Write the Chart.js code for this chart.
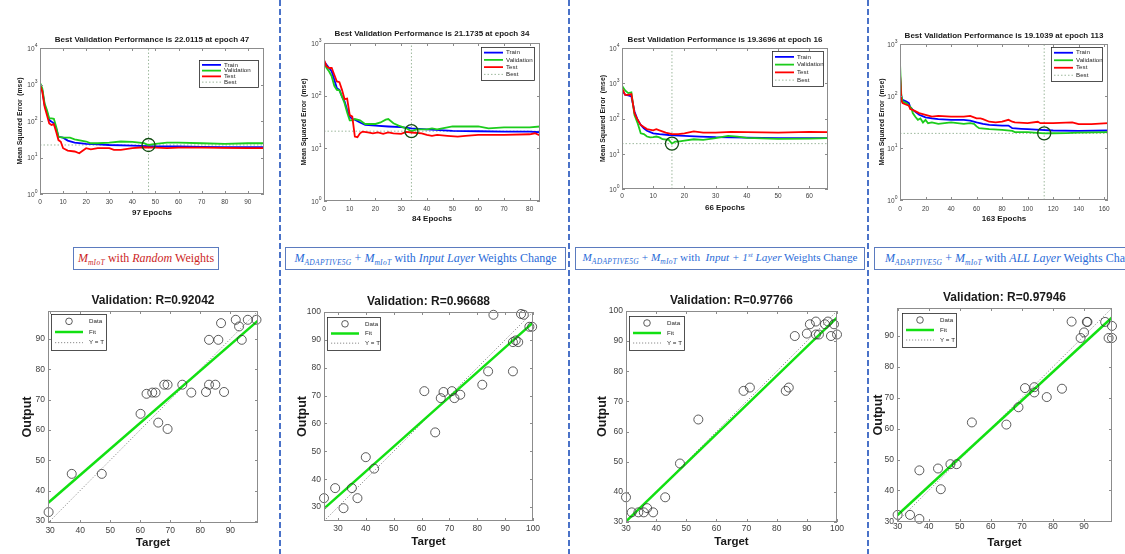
<!DOCTYPE html>
<html>
<head>
<meta charset="utf-8">
<script src="https://cdn.jsdelivr.net/npm/chart.js@4.4.1/dist/chart.umd.min.js"></script>
<style>
  html, body { margin: 0; padding: 0; background: #fff; }
  body { width: 1125px; height: 554px; position: relative; overflow: hidden; font-family: "Liberation Sans", Arial, sans-serif; }
  .pane { position: absolute; }
  .pane canvas { display: block; }
  .sep { position: absolute; top: 0; width: 2px; height: 554px;
         background: repeating-linear-gradient(to bottom, #4a72c8 0 6px, transparent 6px 9px); }
  .cap { position: absolute; box-sizing: border-box; border: 1.5px solid #5b7bbf; background: #fff;
         font-family: "Liberation Serif", "Times New Roman", serif; font-size: 12px;
         display: flex; align-items: center; justify-content: center; white-space: nowrap; }
  .cap sub { font-size: 7.5px; font-style: italic; vertical-align: -3px; letter-spacing: 0.3px; }
  .cap sup { font-size: 7px; font-style: italic; vertical-align: 4px; }
  .red { color: #cc1f1f; }
  .blue { color: #2a6bd8; }
</style>
</head>
<body>

<div class="sep" style="left:279px"></div>
<div class="sep" style="left:568px"></div>
<div class="sep" style="left:867px"></div>

<div class="cap red" style="left:73px;top:247px;width:146px;height:23px;">
  <span><i>M</i><sub>mIoT</sub> with <i>Random</i> Weights</span>
</div>
<div class="cap blue" style="left:285px;top:247px;width:281px;height:23px;">
  <span><i>M</i><sub>ADAPTIVE5G</sub> + <i>M</i><sub>mIoT</sub> with <i>Input Layer</i> Weights Change</span>
</div>
<div class="cap blue" style="left:575px;top:247px;width:290px;height:23px;font-size:11.2px;">
  <span><i>M</i><sub>ADAPTIVE5G</sub> + <i>M</i><sub>mIoT</sub> with&nbsp; <i>Input + 1<sup>st</sup> Layer</i> Weights Change</span>
</div>
<div class="cap blue" style="left:874px;top:247px;width:262px;height:23px;justify-content:flex-start;padding-left:10px;">
  <span><i>M</i><sub>ADAPTIVE5G</sub> + <i>M</i><sub>mIoT</sub> with <i>ALL Layer</i> Weights Change</span>
</div>

<script>
// ---------------- training performance (MSE per epoch) ----------------
// Run A: random weights
const aEpTrain = [0,1,2,3,4,5,6,7,8,10,12,15,20,25,30,40,50,60,70,80,90,97];
const aTrain   = [1070,700,270,180,106,96,86,63,37,35,29,25.6,23.5,23,22,21.2,20,20,19.6,19.1,19.1,19.1];
const aEpVal   = [0,1,2,3,4,5,6,7,8,10,13,15,20,22,25,30,35,40,45,47,50,55,60,70,80,90,97];
const aVal     = [1120,780,300,200,118,118,115,70,37,35,35,31.6,27.4,24.6,24.6,25.6,27.4,26.8,24.6,22.0115,23.5,25.6,25.6,24.6,23.5,24.6,24.6];
const aEpTest  = [0,1,2,3,4,5,6,7,8,9,10,12,15,17,18,20,22,25,30,32,35,40,45,50,55,60,70,80,90,97];
const aTest    = [960,630,245,145,86,78,82,51,30,27,18,15.5,14.6,13.1,14.6,18,16.8,18,18,16.2,16.2,18,19.1,18.7,18,18.7,18.7,18.3,18,18];

// Run B: input layer weights changed
const bEpTrain = [0,1,2,3,4,5,6,7,8,9,10,11,12,14,16,20,25,30,34,40,50,60,70,80,84];
const bTrain   = [447,387,335,288,200,139,129,96,78,54,40,36,35,31,28,27,26,25.3,24,23,21.5,21.1,20.8,20.8,20.2];
const bEpVal   = [0,1,2,3,4,5,6,7,8,9,10,11,12,14,16,20,22,24,25,27,29,32,34,36,40,42,44,46,50,60,64,70,80,84];
const bVal     = [418,335,288,232,154,129,126,96,72,48,34,34,36,34,29,29,31,35,36,30,27,24,21.1735,23,23,24,23,24,26,26,24,25,25,26];
const bEpTest  = [0,1,2,3,4,5,6,7,8,9,10,11,12,13,14,15,17,19,21,23,25,27,30,32,34,38,40,42,44,48,52,55,60,70,80,82,84];
const bTest    = [480,360,335,335,250,186,180,129,86,88,43,40,16.7,16.3,19.3,20.8,20,19.3,20,18.8,20,19.3,18.8,20.5,20,19.3,18,17.3,18,17.3,16.7,17.3,18,18,18.5,19.3,17.5];

// Run C: input + 1st layer weights changed
const cEpTrain = [0,1,2,3,4,5,6,7,8,10,12,15,20,25,30,40,50,60,66];
const cTrain   = [653,470,450,424,158,92,66,53,45,38,36,34,32,30.8,29.5,28.8,27.6,27.6,27.6];
const cEpVal   = [0,1,2,3,4,5,6,7,8,9,10,11,12,13,15,16,17,18,20,23,26,30,34,37,40,50,60,66];
const cVal     = [850,625,525,550,126,74,38,36,30.8,29,29.5,30.8,29,25.8,24.7,19.3696,22.2,22,23.7,25.8,24.7,27.6,32,30.8,28.2,26.4,27,27.6];
const cEpTest  = [0,1,2,3,4,5,6,7,8,10,11,12,14,16,18,20,23,26,30,35,40,50,60,66];
const cTest    = [730,470,470,490,141,92,66,57,50,46,50,46,40,36,36,38,43,40,40,42,41,40,42,41];

// Run D: all layer weights changed
const dEpTrain = [0,1,2,5,7,8,10,15,20,25,30,40,50,55,60,65,70,80,85,88,95,100,110,120,140,163];
const dTrain   = [256,98,84,78,73,61,54,43.5,39,37,36,34.8,34.8,33.7,31,29,27.8,27,27,24,23.4,23,22.3,21.7,21.3,21.7];
const dEpVal   = [0,1,2,5,7,9,10,12,14,16,18,20,22,25,30,40,50,55,58,60,62,70,80,88,90,100,105,113,120,130,140,163];
const dVal     = [430,106,78,73,65,58,47,40,34.8,37,31,34.8,30,31,29,31,29,30,29,26,24,23,22.3,21.3,20.2,20.2,19.8,19.1039,19.2,19.3,19.8,20.2];
const dEpTest  = [0,1,2,5,7,8,10,15,20,25,30,40,50,55,60,63,65,70,75,80,85,88,90,100,108,110,120,135,140,150,163];
const dTest    = [275,84,73,68,65,56,54,47,43.5,40,41.5,40,40,41.5,37,37,36,32,31,32,34.8,32,31,30,31.9,30,30,31,28.7,28.7,30];

const bestValue   = [22.0115, 21.1735, 19.3696, 19.1039];
const bestEpoch   = [47, 34, 16, 113];
const totalEpochs = [97, 84, 66, 163];
const mseTopPower = [4, 3, 4, 3];
const epochTicks  = [
  [0,10,20,30,40,50,60,70,80,90],
  [0,10,20,30,40,50,60,70,80],
  [0,10,20,30,40,50,60],
  [0,20,40,60,80,100,120,140,160]
];

// ---------------- validation regression (target vs output) ----------------
const rA_target = [29.5,37.2,47.2,60.1,62.1,64.0,65.1,66.0,68.0,69.1,69.1,74.0,77.0,81.9,82.9,82.9,85.0,86.0,86.9,87.9,91.8,92.9,93.8,95.8,98.7];
const rA_output = [32.9,45.5,45.5,65.3,71.9,72.3,72.3,62.4,74.9,74.9,60.3,74.9,72.3,72.5,74.9,89.7,74.9,89.7,95.2,72.5,96.3,94.1,89.7,96.3,96.3];
const rB_target = [25.0,29.0,32.0,35.0,37.0,40.0,43.0,61.0,64.9,66.9,67.9,70.9,71.8,73.9,81.8,83.9,85.8,92.8,92.8,93.8,94.7,95.7,96.7,98.7,99.7];
const rB_output = [33.2,36.8,29.6,36.8,33.2,47.9,43.8,71.6,56.8,69.1,71.3,71.6,69.1,70.3,73.9,78.7,99.0,78.7,89.2,89.8,89.2,99.3,99.0,94.7,94.7];
const rC_target = [30.0,31.9,34.1,35.9,37.0,39.0,43.0,47.9,54.0,69.0,71.1,83.0,84.0,86.0,90.0,91.0,93.0,93.0,94.0,96.0,97.0,98.0,99.0,100.0];
const rC_output = [38.2,33.2,33.2,33.2,34.6,33.2,38.2,49.4,64.0,73.5,74.6,73.5,74.6,91.7,92.5,95.6,96.5,92.2,92.2,95.6,96.5,91.7,95.6,92.2];
const rD_target = [30.0,34.0,37.0,37.0,43.0,43.9,47.0,49.0,53.9,65.0,68.9,71.0,74.0,74.0,78.0,82.9,86.0,88.9,90.0,90.9,91.1,96.8,97.9,99.0,99.0];
const rD_output = [32.1,32.1,30.8,46.5,47.1,40.4,48.5,48.5,62.0,61.3,66.9,73.1,73.4,71.7,70.2,72.9,94.6,89.3,91.1,94.5,94.5,94.5,89.3,93.2,89.3];

const rValue       = ['0.92042', '0.96688', '0.97766', '0.97946'];
const fitSlope     = [0.86, 0.89, 0.966, 0.925];
const fitIntercept = [10.7, 7.2, 1.2, 4.35];
const regLimits    = [[29.3, 99.2], [25, 100], [30, 100], [29.8, 99]];
const regTicks     = [
  [30,40,50,60,70,80,90],
  [30,40,50,60,70,80,90,100],
  [30,40,50,60,70,80,90,100],
  [30,40,50,60,70,80,90]
];

// ---------------- drawing ----------------
const FONT = "'Liberation Sans', Arial, Helvetica, sans-serif";
Chart.defaults.font.family = FONT;
Chart.defaults.animation = false;

const pts = (xs, ys) => xs.map((x, i) => ({ x: x, y: ys[i] }));

// axes box with inward tick marks
const axesBox = {
  id: 'axesBox',
  afterDatasetsDraw(chart) {
    const { ctx, chartArea: a, scales } = chart;
    ctx.save();
    ctx.strokeStyle = '#8c8c8c';
    ctx.lineWidth = 1;
    ctx.strokeRect(a.left + 0.5, a.top + 0.5, a.right - a.left - 1, a.bottom - a.top - 1);
    const L = 3;
    ctx.beginPath();
    scales.x.ticks.forEach(t => {
      const p = Math.round(scales.x.getPixelForValue(t.value)) + 0.5;
      ctx.moveTo(p, a.bottom); ctx.lineTo(p, a.bottom - L);
      ctx.moveTo(p, a.top); ctx.lineTo(p, a.top + L);
    });
    scales.y.ticks.forEach(t => {
      const p = Math.round(scales.y.getPixelForValue(t.value)) + 0.5;
      ctx.moveTo(a.left, p); ctx.lineTo(a.left + L, p);
      ctx.moveTo(a.right, p); ctx.lineTo(a.right - L, p);
    });
    ctx.stroke();
    ctx.restore();
  }
};

// "10" with a raised exponent for each tick of a logarithmic y axis
const powerTicks = {
  id: 'powerTicks',
  afterDraw(chart, args, o) {
    if (!o || !o.size) return;
    const { ctx, chartArea: a, scales } = chart;
    const y = scales.y;
    ctx.save();
    ctx.fillStyle = '#404040';
    ctx.textBaseline = 'middle';
    ctx.textAlign = 'left';
    y.ticks.forEach(t => {
      const p = y.getPixelForValue(t.value);
      const e = String(Math.round(Math.log10(t.value)));
      ctx.font = o.expSize + 'px ' + FONT;
      const we = ctx.measureText(e).width;
      ctx.font = o.size + 'px ' + FONT;
      const wb = ctx.measureText('10').width;
      const xe = a.left - o.gap - we;
      ctx.fillText('10', xe - wb - 0.2, p + 1);
      ctx.font = o.expSize + 'px ' + FONT;
      ctx.fillText(e, xe, p - 2.5);
    });
    ctx.restore();
  }
};

// boxed legend placed inside the axes
const insetLegend = {
  id: 'insetLegend',
  afterDraw(chart, args, o) {
    if (!o || !o.w) return;
    const items = chart.data.datasets.filter(d => d.label && !d.noLegend);
    const { ctx, chartArea: a } = chart;
    const x = o.side === 'right' ? a.right - o.gap[0] - o.w : a.left + o.gap[0];
    const y = a.top + o.gap[1];
    ctx.save();
    ctx.fillStyle = '#fff';
    ctx.fillRect(x, y, o.w, o.h);
    ctx.strokeStyle = '#262626';
    ctx.lineWidth = 0.8;
    ctx.strokeRect(x + 0.5, y + 0.5, o.w, o.h);
    const rowH = (o.h - 2 * o.padY) / items.length;
    items.forEach((d, i) => {
      const cy = y + o.padY + rowH * (i + 0.5);
      ctx.beginPath();
      if (d.legendSymbol === 'circle') {
        ctx.arc(x + o.circX, cy, o.r, 0, 2 * Math.PI);
        ctx.strokeStyle = d.pointBorderColor;
        ctx.lineWidth = d.pointBorderWidth;
        ctx.stroke();
      } else {
        ctx.setLineDash(d.borderDash || []);
        ctx.moveTo(x + o.sym[0], cy);
        ctx.lineTo(x + o.sym[1], cy);
        ctx.strokeStyle = d.borderColor;
        ctx.lineWidth = d.borderWidth;
        ctx.stroke();
        ctx.setLineDash([]);
      }
      ctx.fillStyle = '#262626';
      ctx.font = o.fontSize + 'px ' + FONT;
      ctx.textBaseline = 'middle';
      ctx.textAlign = 'left';
      ctx.fillText(d.label, x + o.textX, cy);
    });
    ctx.restore();
  }
};

function makeCanvas(cv) {
  const div = document.createElement('div');
  div.className = 'pane';
  div.style.cssText = `left:${cv.x}px;top:${cv.y}px;width:${cv.w}px;height:${cv.h}px;`;
  const c = document.createElement('canvas');
  c.width = cv.w; c.height = cv.h;
  c.style.width = cv.w + 'px'; c.style.height = cv.h + 'px';
  div.appendChild(c);
  document.body.appendChild(div);
  return c;
}

// options shared by all axes frames: places the plot box inside the canvas
function frame(f) {
  const cv = f.cv, p = f.plot;
  const tLH = f.titleSize * 1.2;
  const tTop = f.titleY - cv.y - tLH / 2;
  const tBot = (p.t - cv.y) - tLH - tTop;
  const bottomEdge = cv.y + cv.h;
  return {
    layout: { padding: { left: 0, top: 0, bottom: 0, right: cv.x + cv.w - p.r } },
    title: {
      display: true, text: f.title, fullSize: false, color: '#1a1a1a',
      font: { family: FONT, size: f.titleSize, weight: 'bold', lineHeight: 1.2 },
      padding: { top: tTop, bottom: tBot }
    },
    yWidth: p.l - cv.x,
    xHeight: bottomEdge - p.b,
    xTickPad: f.xTickY - p.b - f.tickSize * 1.2 / 2,
    xTitlePad: bottomEdge - f.xTitleY - f.xTitleSize * 1.2 / 2,
    yTitlePad: f.yTitleX - cv.x - f.yTitleSize * 1.2 / 2
  };
}

function axis(type, min, max, tickVals, fr, isX, f, label, labelSize, showLabels) {
  return {
    type: type, min: min, max: max,
    afterBuildTicks: s => { s.ticks = tickVals.map(v => ({ value: v })); },
    afterFit: s => { if (isX) s.height = fr.xHeight; else s.width = fr.yWidth; },
    grid: { display: false, drawTicks: false },
    border: { display: false },
    ticks: {
      display: showLabels !== false,
      autoSkip: false, maxRotation: 0, color: '#404040',
      font: { size: f.tickSize, lineHeight: 1.2 },
      padding: isX ? fr.xTickPad : f.yTickGap,
      callback: v => String(v)
    },
    title: {
      display: true, text: label, color: '#1a1a1a',
      font: { size: labelSize, weight: 'bold', lineHeight: 1.2 },
      padding: isX ? { top: 0, bottom: fr.xTitlePad } : { top: fr.yTitlePad, bottom: 0 }
    }
  };
}

// ---- training performance panels ----
const perfRuns = [
  { train: pts(aEpTrain, aTrain), val: pts(aEpVal, aVal), test: pts(aEpTest, aTest) },
  { train: pts(bEpTrain, bTrain), val: pts(bEpVal, bVal), test: pts(bEpTest, bTest) },
  { train: pts(cEpTrain, cTrain), val: pts(cEpVal, cVal), test: pts(cEpTest, cTest) },
  { train: pts(dEpTrain, dTrain), val: pts(dEpVal, dVal), test: pts(dEpTest, dTest) }
];

const perfFrames = [
  { cv: { x: 0,   y: 20, w: 276, h: 205 }, plot: { l: 40,  t: 48, r: 264,  b: 194 }, titleY: 40, xTickY: 202, xTitleY: 213, yTitleX: 20,
    legend: { gap: [6, 12], w: 59, h: 27 } },
  { cv: { x: 284, y: 15, w: 266, h: 210 }, plot: { l: 324, t: 43, r: 540,  b: 201 }, titleY: 34, xTickY: 209, xTitleY: 219, yTitleX: 304,
    legend: { gap: [6, 4], w: 53, h: 33 } },
  { cv: { x: 573, y: 20, w: 266, h: 200 }, plot: { l: 622, t: 48, r: 828,  b: 189 }, titleY: 40, xTickY: 196, xTitleY: 208, yTitleX: 603,
    legend: { gap: [5, 3], w: 51, h: 35 } },
  { cv: { x: 871, y: 15, w: 250, h: 212 }, plot: { l: 900, t: 44, r: 1108, b: 200 }, titleY: 36, xTickY: 209, xTitleY: 219, yTitleX: 882,
    legend: { gap: [6, 3], w: 51, h: 34 } }
];

perfFrames.forEach((pf, i) => {
  const f = Object.assign({}, pf, {
    title: 'Best Validation Performance is ' + bestValue[i].toFixed(4) + ' at epoch ' + bestEpoch[i],
    titleSize: 8, tickSize: 6.5, xTitleSize: 8, yTitleSize: 6.8, yTickGap: 2
  });
  const fr = frame(f);
  const run = perfRuns[i];
  const n = totalEpochs[i];
  const yMax = Math.pow(10, mseTopPower[i]);
  const yTicks = [];
  for (let k = 0; k <= mseTopPower[i]; k++) yTicks.push(Math.pow(10, k));
  const bestStyle = { borderColor: '#9db89d', borderDash: [1.5, 2], borderWidth: 1, showLine: true, pointRadius: 0, order: 4 };

  new Chart(makeCanvas(f.cv), {
    type: 'scatter',
    data: {
      datasets: [
        { label: 'Train', data: run.train, borderColor: '#0000ff', borderWidth: 1.8, showLine: true, pointRadius: 0, order: 3 },
        { label: 'Validation', data: run.val, borderColor: '#1ccc1c', borderWidth: 1.8, showLine: true, pointRadius: 0, order: 2 },
        { label: 'Test', data: run.test, borderColor: '#ff0000', borderWidth: 1.8, showLine: true, pointRadius: 0, order: 1 },
        Object.assign({ label: 'Best', data: [{ x: 0, y: bestValue[i] }, { x: n, y: bestValue[i] }] }, bestStyle),
        Object.assign({ noLegend: true, data: [{ x: bestEpoch[i], y: 1 }, { x: bestEpoch[i], y: yMax }] }, bestStyle),
        { noLegend: true, data: [{ x: bestEpoch[i], y: bestValue[i] }], showLine: false, pointRadius: 6.5,
          pointBorderColor: '#124d12', pointBorderWidth: 1.3, pointBackgroundColor: 'rgba(0,0,0,0)', order: 0 }
      ]
    },
    options: {
      responsive: false, events: [], layout: fr.layout,
      plugins: {
        legend: { display: false }, tooltip: { enabled: false },
        title: fr.title,
        powerTicks: { size: 6.5, expSize: 5, gap: 2.5 },
        insetLegend: Object.assign({ side: 'right', padY: 2, sym: [3, 22], textX: 25, fontSize: 6.2 }, f.legend)
      },
      scales: {
        x: axis('linear', 0, n, epochTicks[i], fr, true, f, n + ' Epochs', f.xTitleSize),
        y: axis('logarithmic', 1, yMax, yTicks, fr, false, f, 'Mean Squared Error  (mse)', f.yTitleSize, false)
      }
    },
    plugins: [axesBox, powerTicks, insetLegend]
  });
});

// ---- regression panels ----
const regRuns = [
  pts(rA_target, rA_output), pts(rB_target, rB_output), pts(rC_target, rC_output), pts(rD_target, rD_output)
];

const regFrames = [
  { cv: { x: 0,   y: 285, w: 272, h: 265 }, plot: { l: 48,  t: 311, r: 258,  b: 523 }, titleY: 301, xTickY: 531, xTitleY: 543, yTitleX: 28,
    legend: { gap: [3, 3], w: 55, h: 36 } },
  { cv: { x: 284, y: 285, w: 262, h: 265 }, plot: { l: 324, t: 312, r: 533,  b: 521 }, titleY: 302, xTickY: 529, xTitleY: 542, yTitleX: 303,
    legend: { gap: [3, 5], w: 53, h: 33 } },
  { cv: { x: 573, y: 285, w: 280, h: 265 }, plot: { l: 626, t: 311, r: 837,  b: 522 }, titleY: 301, xTickY: 529, xTitleY: 542, yTitleX: 603,
    legend: { gap: [3, 5], w: 55, h: 34 } },
  { cv: { x: 871, y: 282, w: 254, h: 268 }, plot: { l: 897, t: 308, r: 1112, b: 522 }, titleY: 298, xTickY: 527, xTitleY: 543, yTitleX: 879,
    legend: { gap: [5, 5], w: 54, h: 34 } }
];

regFrames.forEach((rf, i) => {
  const f = Object.assign({}, rf, {
    title: 'Validation: R=' + rValue[i],
    titleSize: 12, tickSize: 8.5, xTitleSize: 11.5, yTitleSize: 12.5, yTickGap: 3
  });
  const fr = frame(f);
  const lo = regLimits[i][0], hi = regLimits[i][1];
  const s = fitSlope[i], b = fitIntercept[i];

  new Chart(makeCanvas(f.cv), {
    type: 'scatter',
    data: {
      datasets: [
        { label: 'Data', legendSymbol: 'circle', data: regRuns[i], showLine: false, pointRadius: 4.5,
          pointBorderColor: '#333', pointBorderWidth: 0.8, pointBackgroundColor: 'rgba(0,0,0,0)', clip: 8, order: 0 },
        { label: 'Fit', data: [{ x: lo, y: s * lo + b }, { x: hi, y: s * hi + b }], showLine: true, pointRadius: 0,
          borderColor: '#12e012', borderWidth: 2.5, order: 1 },
        { label: 'Y = T', data: [{ x: lo, y: lo }, { x: hi, y: hi }], showLine: true, pointRadius: 0,
          borderColor: '#8c8c8c', borderDash: [1.2, 1.8], borderWidth: 1, order: 2 }
      ]
    },
    options: {
      responsive: false, events: [], layout: fr.layout,
      plugins: {
        legend: { display: false }, tooltip: { enabled: false },
        title: fr.title,
        insetLegend: Object.assign({ side: 'left', padY: 2, sym: [4, 32], circX: 18, r: 3.3, textX: 38, fontSize: 6.2 }, f.legend)
      },
      scales: {
        x: axis('linear', lo, hi, regTicks[i], fr, true, f, 'Target', f.xTitleSize),
        y: axis('linear', lo, hi, regTicks[i], fr, false, f, 'Output', f.yTitleSize)
      }
    },
    plugins: [axesBox, insetLegend]
  });
});
</script>
</body>
</html>
